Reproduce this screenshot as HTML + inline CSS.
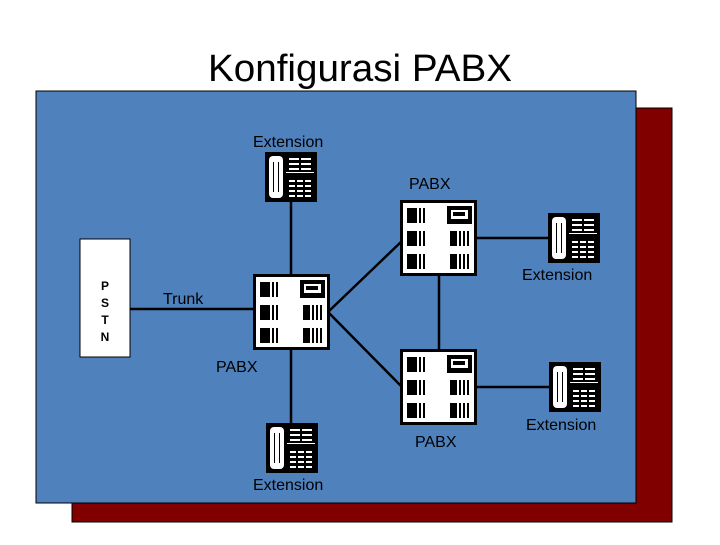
<!DOCTYPE html>
<html><head><style>
body{margin:0;background:#fff;width:720px;height:540px;overflow:hidden}
svg text{font-family:"Liberation Sans",sans-serif}
</style></head><body>
<svg width="720" height="540" viewBox="0 0 720 540">
<defs>
<g id="phone">
<rect x="0" y="0" width="52" height="50" fill="#000"/>
<rect x="4" y="4" width="14" height="42" rx="4" fill="#fff"/>
<rect x="8" y="10" width="6" height="30" fill="#000"/>
<rect x="9" y="8" width="4" height="34" fill="#fff"/>
<g fill="#fff">
<rect x="24" y="6" width="10" height="2"/><rect x="36" y="6" width="10" height="2"/>
<rect x="24" y="11" width="10" height="2"/><rect x="36" y="11" width="10" height="2"/>
<rect x="24" y="16" width="10" height="2"/><rect x="36" y="16" width="10" height="2"/>
<rect x="21" y="20" width="28" height="1"/>
<rect x="24" y="28" width="6" height="2"/><rect x="32" y="28" width="6" height="2"/><rect x="40" y="28" width="6" height="2"/>
<rect x="24" y="33" width="6" height="2"/><rect x="32" y="33" width="6" height="2"/><rect x="40" y="33" width="6" height="2"/>
<rect x="24" y="38" width="6" height="2"/><rect x="32" y="38" width="6" height="2"/><rect x="40" y="38" width="6" height="2"/>
<rect x="24" y="43" width="6" height="2"/><rect x="32" y="43" width="6" height="2"/><rect x="40" y="43" width="6" height="2"/>
</g>
</g>
<g id="pabx">
<rect x="1.5" y="1.5" width="74" height="73" fill="#fff" stroke="#000" stroke-width="3"/>
<g fill="#000">
<rect x="7" y="8" width="10" height="15"/><rect x="19" y="8" width="2" height="15"/><rect x="23" y="8" width="2" height="15"/>
<rect x="7" y="31" width="10" height="15"/><rect x="19" y="31" width="2" height="15"/><rect x="23" y="31" width="2" height="15"/>
<rect x="7" y="54" width="10" height="15"/><rect x="19" y="54" width="2" height="15"/><rect x="23" y="54" width="2" height="15"/>
<rect x="47" y="6" width="25" height="18"/>
<rect x="50" y="31" width="7" height="15"/><rect x="59" y="31" width="2" height="15"/><rect x="63" y="31" width="2" height="15"/><rect x="67" y="31" width="2" height="15"/>
<rect x="50" y="54" width="7" height="15"/><rect x="59" y="54" width="2" height="15"/><rect x="63" y="54" width="2" height="15"/><rect x="67" y="54" width="2" height="15"/>
</g>
<rect x="51" y="10" width="17" height="9" fill="#fff"/>
<rect x="53" y="12" width="12" height="4" fill="#000"/>
</g>
</defs>
<text x="360" y="81" font-size="38" text-anchor="middle" fill="#000" textLength="304" lengthAdjust="spacingAndGlyphs">Konfigurasi PABX</text>
<rect x="72" y="108" width="600" height="414" fill="#800000" stroke="#000"/>
<rect x="36" y="91" width="600" height="412" fill="#4f81bd" stroke="#000"/>
<g stroke="#000" stroke-width="2.5" fill="none">
<line x1="291" y1="200" x2="291" y2="276"/>
<line x1="291" y1="348" x2="291" y2="424"/>
<line x1="130" y1="309" x2="256" y2="309"/>
<line x1="328" y1="312" x2="402" y2="241"/>
<line x1="328" y1="312" x2="402" y2="387"/>
<line x1="439" y1="274" x2="439" y2="351"/>
<line x1="476" y1="238" x2="548" y2="238"/>
<line x1="476" y1="387" x2="550" y2="387"/>
</g>
<rect x="80" y="239" width="50" height="118" fill="#fff" stroke="#000"/>
<g font-size="12" text-anchor="middle" fill="#000" font-weight="bold"><text x="105" y="290">P</text><text x="105" y="307">S</text><text x="105" y="324">T</text><text x="105" y="341">N</text></g>
<use href="#phone" x="265" y="152"/>
<use href="#phone" x="548" y="213"/>
<use href="#phone" x="549" y="362"/>
<use href="#phone" x="266" y="423"/>
<use href="#pabx" x="253" y="274"/>
<use href="#pabx" x="400" y="200"/>
<use href="#pabx" x="400" y="349"/>
<g font-size="16" fill="#000">
<text x="253" y="147">Extension</text>
<text x="409" y="189">PABX</text>
<text x="522" y="280">Extension</text>
<text x="163" y="304">Trunk</text>
<text x="216" y="372">PABX</text>
<text x="526" y="430">Extension</text>
<text x="415" y="447">PABX</text>
<text x="253" y="490">Extension</text>
</g>
</svg>
</body></html>
